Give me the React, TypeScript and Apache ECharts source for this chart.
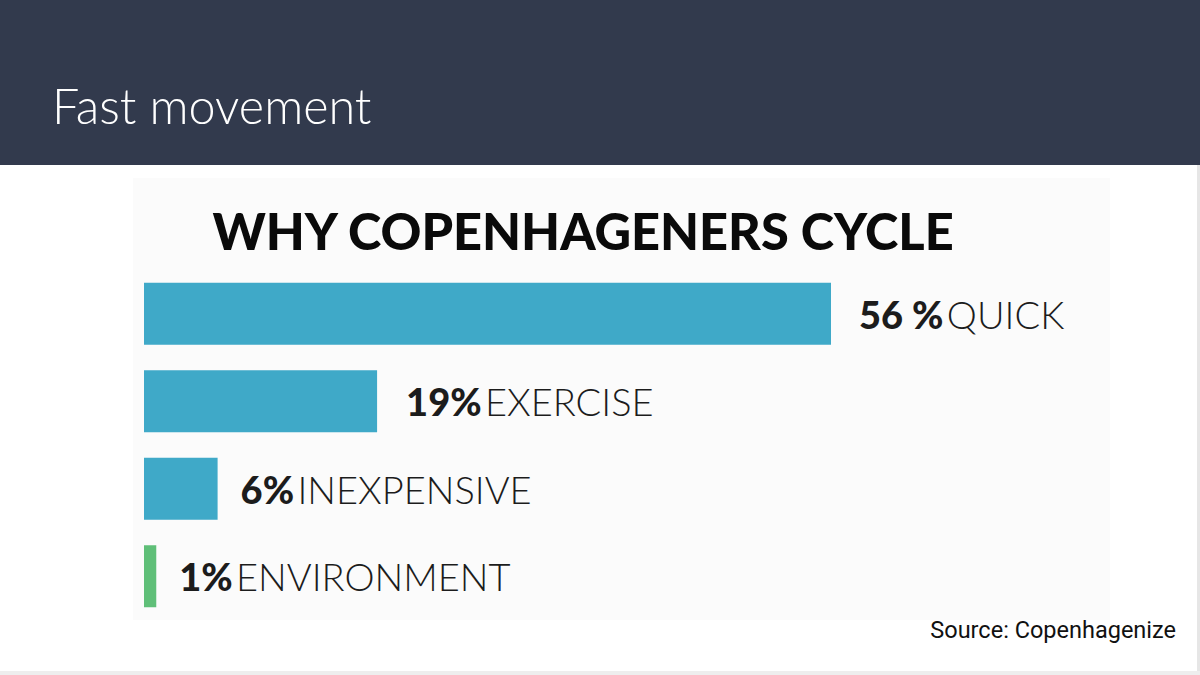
import React, { useEffect, useRef } from "react";
import * as echarts from "echarts";

const categories = ["QUICK", "EXERCISE", "INEXPENSIVE", "ENVIRONMENT"];
const values = [56, 19, 6, 1];
const valueLabels = ["56 %", "19%", "6%", "1%"];
const barColors = ["#3fa9c8", "#3fa9c8", "#3fa9c8", "#5fbf78"];
const labelGaps = [28, 29, 23, 23];

export default function App() {
  const ref = useRef<HTMLDivElement>(null);
  useEffect(() => {
    if (!ref.current) return;
    const chart = echarts.init(ref.current, null, { renderer: "svg" });
    chart.setOption({
      animation: false,
      backgroundColor: "#ffffff",
      grid: { left: 144, right: 369, top: 270, bottom: 55, containLabel: false },
      xAxis: { type: "value", min: 0, max: 56, show: false },
      yAxis: { type: "category", data: categories, inverse: true, show: false },
      graphic: [
        { type: "rect", shape: { x: 0, y: 0, width: 1200, height: 165 }, style: { fill: "#323a4d" }, z: -10 },
        { type: "rect", shape: { x: 133, y: 178, width: 977, height: 442 }, style: { fill: "#fbfbfb" }, z: -10 },
        { type: "rect", shape: { x: 1197, y: 165, width: 3, height: 510 }, style: { fill: "#e6e6e6" }, z: -10 },
        { type: "rect", shape: { x: 0, y: 671, width: 1200, height: 4 }, style: { fill: "#eeeeee" }, z: -10 },
        {
          type: "text", x: 52, y: 105,
          style: { text: "Fast movement", fill: "#ffffff", font: "300 48.5px Lato, 'Open Sans', sans-serif", textVerticalAlign: "middle" }
        },
        {
          type: "text", x: 583, y: 230,
          style: { text: "WHY COPENHAGENERS CYCLE", fill: "#0a0a0a", font: "900 50.5px Lato, 'DejaVu Sans', sans-serif", textAlign: "center", textVerticalAlign: "middle" }
        },
        {
          type: "text", x: 1176, y: 630,
          style: { text: "Source: Copenhagenize", fill: "#111111", font: "400 23.5px Roboto, sans-serif", textAlign: "right", textVerticalAlign: "middle" }
        }
      ],
      series: [
        {
          type: "bar",
          barWidth: 62,
          data: values.map((v, i) => ({
            value: v,
            itemStyle: { color: barColors[i] },
            label: {
              show: true,
              position: "right",
              distance: labelGaps[i],
              formatter: `{n|${valueLabels[i]}} {t|${categories[i]}}`,
              rich: {
                n: { fontSize: 38, fontWeight: 900, fontFamily: "Lato, 'DejaVu Sans', sans-serif", color: "#1c1c1c" },
                t: { fontSize: 38, fontWeight: 300, fontFamily: "Lato, 'Open Sans', sans-serif", color: "#1c1c1c" }
              }
            }
          }))
        }
      ]
    });
    return () => chart.dispose();
  }, []);
  return <div ref={ref} style={{ position: "fixed", left: 0, top: 0, width: 1200, height: 675 }} />;
}
